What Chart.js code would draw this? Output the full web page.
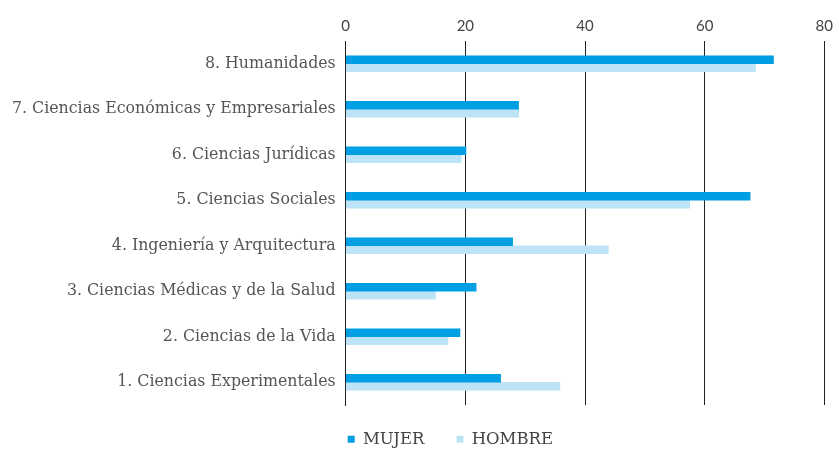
<!DOCTYPE html>
<html lang="es">
<head>
  <meta charset="utf-8" />
  <title>Mujer / Hombre por rama</title>
  <style>
html, body { margin: 0; padding: 0; background: #fff; }
#chartBox { width: 839px; height: 449px; }
  </style>
</head>
<body>
  <div id="chartBox"><canvas id="myChart"></canvas></div>
  <script src="https://cdn.jsdelivr.net/npm/chart.js"></script>
  <script>
const ramas = [
  '8. Humanidades',
  '7. Ciencias Económicas y Empresariales',
  '6. Ciencias Jurídicas',
  '5. Ciencias Sociales',
  '4. Ingeniería y Arquitectura',
  '3. Ciencias Médicas y de la Salud',
  '2. Ciencias de la Vida',
  '1. Ciencias Experimentales'
];
const mujer  = [71.5, 28.9, 20.1, 67.6, 27.9, 21.8, 19.1, 25.9];
const hombre = [68.5, 28.9, 19.3, 57.5, 43.9, 15.0, 17.1, 35.8];
const ejeX = { min: 0, max: 80, paso: 20 };

// la leyenda va pegada al eje; se agranda su caja para que no se recorte
const moverLeyenda = {
  id: 'moverLeyenda',
  afterLayout(chart) {
    const l = chart.legend;
    const dx = -30, dy = -6;
    l.left += dx; l.right += dx;
    l.top += dy; l.bottom += dy + 30;
  }
};

const ctx = document.getElementById('myChart');
new Chart(ctx, {
  type: 'bar',
  data: {
    labels: ramas,
    datasets: [
      { label: 'MUJER', data: mujer, backgroundColor: '#009fe3', barThickness: 8 },
      { label: 'HOMBRE', data: hombre, backgroundColor: '#bde4f6', barThickness: 8 }
    ]
  },
  options: {
    indexAxis: 'y',
    responsive: true,
    maintainAspectRatio: false,
    animation: false,
    layout: { padding: { top: 11, bottom: 0, left: 2, right: 0 } },
    scales: {
      x: {
        position: 'top',
        min: ejeX.min,
        max: ejeX.max,
        ticks: {
          stepSize: ejeX.paso,
          color: '#444',
          padding: 6,
          font: { family: 'Lato', size: 15 }
        },
        grid: { color: '#222', drawTicks: false },
        border: { display: false }
      },
      y: {
        ticks: {
          color: '#555',
          padding: 10,
          font: { family: 'DejaVu Serif', size: 15.8 }
        },
        grid: { display: false, drawTicks: false },
        border: { color: '#222' }
      }
    },
    plugins: {
      legend: {
        position: 'bottom',
        align: 'start',
        fullSize: false,
        maxHeight: 44,
        labels: {
          boxWidth: 7,
          boxHeight: 7,
          padding: 32,
          color: '#444',
          font: { family: 'DejaVu Serif', size: 16.5 }
        }
      },
      tooltip: { enabled: false }
    }
  },
  plugins: [moverLeyenda]
});
  </script>
</body>
</html>
